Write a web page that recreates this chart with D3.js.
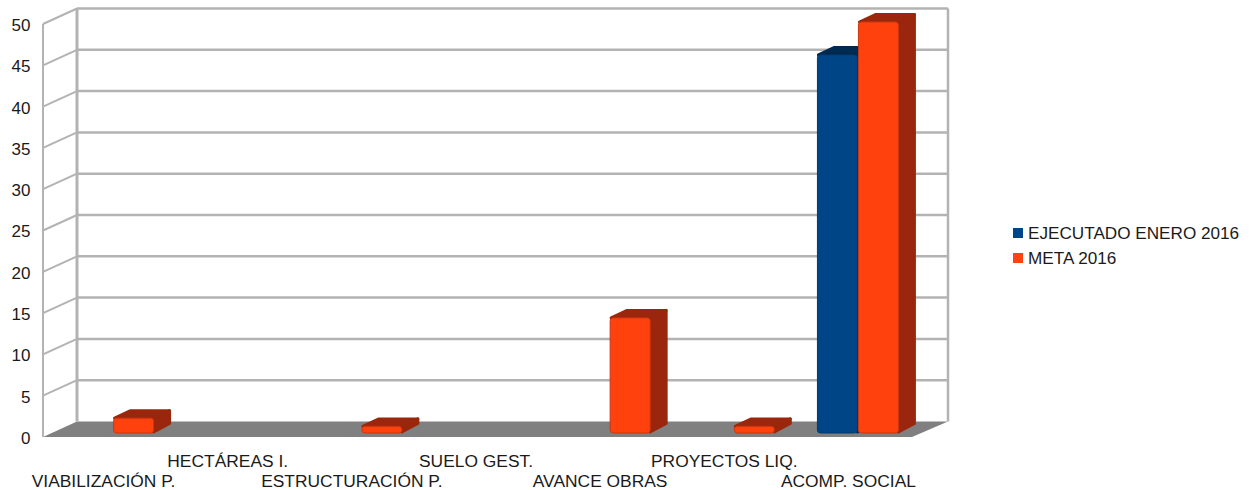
<!DOCTYPE html>
<html>
<head>
<meta charset="utf-8">
<script src="https://cdn.jsdelivr.net/npm/d3@7"></script>
<style>
  body { margin: 0; background: #fff; }
  text { font-family: "Liberation Sans", Arial, sans-serif; fill: #1a1a1a; }
</style>
</head>
<body>
<div id="chart"></div>
<script>
const categories = ["VIABILIZACIÓN P.", "HECTÁREAS I.", "ESTRUCTURACIÓN P.", "SUELO GEST.", "AVANCE OBRAS", "PROYECTOS LIQ.", "ACOMP. SOCIAL"]
const ejecutado = [null, null, null, null, null, null, 46]
const meta = [1.8, null, 0.8, null, 14, 0.8, 50]
const yTicks = [0, 5, 10, 15, 20, 25, 30, 35, 40, 45, 50]
const seriesNames = ["EJECUTADO ENERO 2016", "META 2016"]
const seriesColors = ["#004586", "#ff420e"]
const seriesDark = ["#00294f", "#992808"]

const width = 1251
const height = 490

const svg = d3.select("#chart")
  .append("svg")
  .attr("width", width)
  .attr("height", height)
  .style("display", "block")

const defs = svg.append("defs")
defs.append("filter")
  .attr("id", "soft")
  .append("feGaussianBlur")
  .attr("stdDeviation", 0.6)
defs.append("filter")
  .attr("id", "softer")
  .append("feGaussianBlur")
  .attr("stdDeviation", 0.35)

// front plane of the box and the depth offset to the back wall
const plot = {left: 43, right: 912, bottom: 437, top: 24}
const depth = {x: 34, y: -15.5}

const xScale = d3.scaleBand()
  .domain(categories)
  .range([plot.left, plot.right])

const yScale = d3.scaleLinear()
  .domain([0, 50])
  .range([plot.bottom, plot.top])

// the bars stand on a plane between the front and the back of the box
const barScale = d3.scaleLinear()
  .domain([0, 50])
  .range([433, 22])

const box = svg.append("g").attr("filter", "url(#softer)")

// floor
box.append("path")
  .attr("d", `M${plot.left},${plot.bottom}L${plot.left + depth.x},${plot.bottom + depth.y}L${plot.right + depth.x + 2},${plot.bottom + depth.y}L${plot.right},${plot.bottom}Z`)
  .attr("fill", "#808080")

// back wall grid
box.selectAll("line.grid")
  .data(yTicks.filter(d => d > 0))
  .join("line")
  .attr("class", "grid")
  .attr("x1", plot.left + depth.x)
  .attr("x2", plot.right + depth.x + 2)
  .attr("y1", d => yScale(d) + depth.y)
  .attr("y2", d => yScale(d) + depth.y)
  .attr("stroke", "#b3b3b3")
  .attr("stroke-width", 2.5)

// left wall slants
box.selectAll("line.slant")
  .data(yTicks.filter(d => d > 0))
  .join("line")
  .attr("class", "slant")
  .attr("x1", plot.left)
  .attr("x2", plot.left + depth.x)
  .attr("y1", d => yScale(d))
  .attr("y2", d => yScale(d) + depth.y)
  .attr("stroke", "#b3b3b3")
  .attr("stroke-width", 2)

const wallLines = [
  [plot.left, yScale(50), plot.left, yScale(0), 2],
  [plot.left + depth.x, yScale(50) + depth.y, plot.left + depth.x, yScale(0) + depth.y, 3],
  [plot.right + depth.x + 2, yScale(50) + depth.y, plot.right + depth.x + 2, yScale(0) + depth.y, 2.5]
]
box.selectAll("line.wall")
  .data(wallLines)
  .join("line")
  .attr("class", "wall")
  .attr("x1", d => d[0])
  .attr("y1", d => d[1])
  .attr("x2", d => d[2])
  .attr("y2", d => d[3])
  .attr("stroke", "#b3b3b3")
  .attr("stroke-width", d => d[4])

// y axis, only the labels are kept
const yAxis = svg.append("g")
  .attr("transform", `translate(${plot.left},1)`)
  .call(d3.axisLeft(yScale).tickValues(yTicks).tickSize(0).tickPadding(12.5))
yAxis.select(".domain").remove()
yAxis.selectAll("text")
  .attr("font-size", 17)
  .attr("font-family", "Liberation Sans")
  .attr("fill", "#1a1a1a")

// x labels, staggered on two rows
svg.selectAll("text.cat")
  .data(categories)
  .join("text")
  .attr("class", "cat")
  .attr("x", d => xScale(d) + xScale.bandwidth() / 2 - 1.5)
  .attr("y", (d, i) => i % 2 ? 467 : 487)
  .attr("text-anchor", "middle")
  .attr("font-size", 17.4)
  .text(d => d)

// bars
const barWidth = 40
const barShift = 8.5
const barDepth = {x: 17, y: -8.5}
const barData = []
categories.forEach((c, i) => {
  if (ejecutado[i] != null) barData.push({cat: c, value: ejecutado[i], s: 0})
  if (meta[i] != null) barData.push({cat: c, value: meta[i], s: 1})
})

const bars = svg.append("g")
  .attr("filter", "url(#soft)")
  .selectAll("g")
  .data(barData)
  .join("g")
  .attr("transform", d => {
    const x = xScale(d.cat) + xScale.bandwidth() / 2 + barShift + (d.s === 0 ? -barWidth - 1 : 0)
    return `translate(${x},0)`
  })

// side face, inset a little so the round stroke gives soft corners
bars.append("path")
  .attr("d", d => {
    const t = barScale(d.value), b = barScale(0)
    return `M${barWidth},${t}L${barWidth + barDepth.x - 1},${t + barDepth.y + 1}L${barWidth + barDepth.x - 1},${b + barDepth.y - 1}L${barWidth},${b - 1}Z`
  })
  .attr("fill", d => seriesDark[d.s])
  .attr("stroke", d => seriesDark[d.s])
  .attr("stroke-linejoin", "round")
  .attr("stroke-width", 3)

// top face
bars.append("path")
  .attr("d", d => {
    const t = barScale(d.value)
    return `M1,${t}L${barDepth.x},${t + barDepth.y + 1}L${barWidth + barDepth.x - 1},${t + barDepth.y + 1}L${barWidth},${t}Z`
  })
  .attr("fill", d => seriesDark[d.s])
  .attr("stroke", d => seriesDark[d.s])
  .attr("stroke-linejoin", "round")
  .attr("stroke-width", 3)

// front face
bars.append("rect")
  .attr("y", d => barScale(d.value))
  .attr("width", barWidth)
  .attr("height", d => barScale(0) - barScale(d.value))
  .attr("rx", 3)
  .attr("fill", d => seriesColors[d.s])
  .attr("stroke", d => d3.color(seriesColors[d.s]).darker(0.6))
  .attr("stroke-width", 1)

// legend
const legend = svg.selectAll("g.legend")
  .data(seriesNames)
  .join("g")
  .attr("class", "legend")
  .attr("transform", (d, i) => `translate(1013,${228 + i * 25})`)

legend.append("rect")
  .attr("width", 10)
  .attr("height", 10)
  .attr("fill", (d, i) => seriesColors[i])

legend.append("text")
  .attr("x", 15)
  .attr("y", 11)
  .attr("font-size", 17.15)
  .text(d => d)
</script>
</body>
</html>
